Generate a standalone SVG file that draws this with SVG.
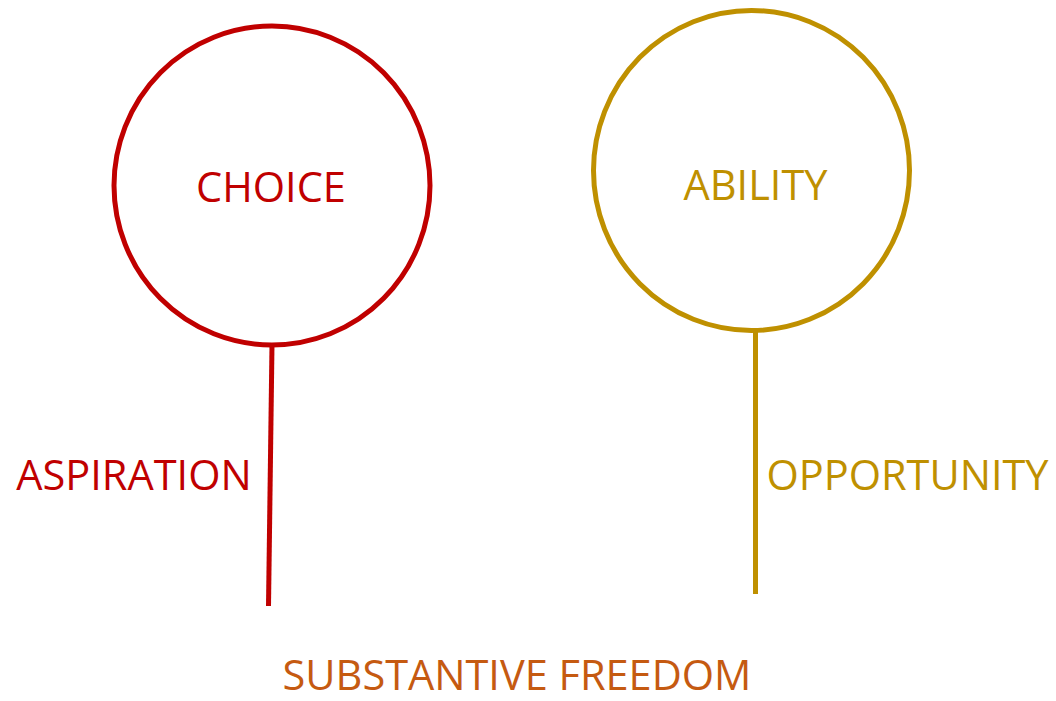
<svg xmlns="http://www.w3.org/2000/svg" width="1056" height="701" viewBox="0 0 1056 701">
<style>
text{font-family:"Open Sans","Liberation Sans",sans-serif;font-size:41.5px;text-anchor:middle}
.red{fill:#C00000}.gold{fill:#BF9000}.orange{fill:#C55A11}
.ring{fill:none;stroke-width:5}
.conn{stroke-width:5;fill:none}
</style>
<rect width="1056" height="701" fill="#ffffff"/>
<g id="choice">
<ellipse class="ring" cx="272" cy="185.5" rx="158" ry="159.5" stroke="#C00000"/>
<text class="red" x="271" y="202">CHOICE</text>
</g>
<g id="ability">
<ellipse class="ring" cx="751.5" cy="170.5" rx="158" ry="160" stroke="#BF9000"/>
<text class="gold" x="755.5" y="200">ABILITY</text>
</g>
<g id="connectors">
<line class="conn" x1="272" y1="344" x2="268.5" y2="606" stroke="#C00000"/>
<line class="conn" x1="755.5" y1="331" x2="755.5" y2="594" stroke="#BF9000"/>
</g>
<g id="aspiration">
<text class="red" x="134" y="490">ASPIRATION</text>
</g>
<g id="opportunity">
<text class="gold" x="907.5" y="490">OPPORTUNITY</text>
</g>
<g id="freedom">
<text class="orange" x="517" y="690">SUBSTANTIVE FREEDOM</text>
</g>
</svg>
